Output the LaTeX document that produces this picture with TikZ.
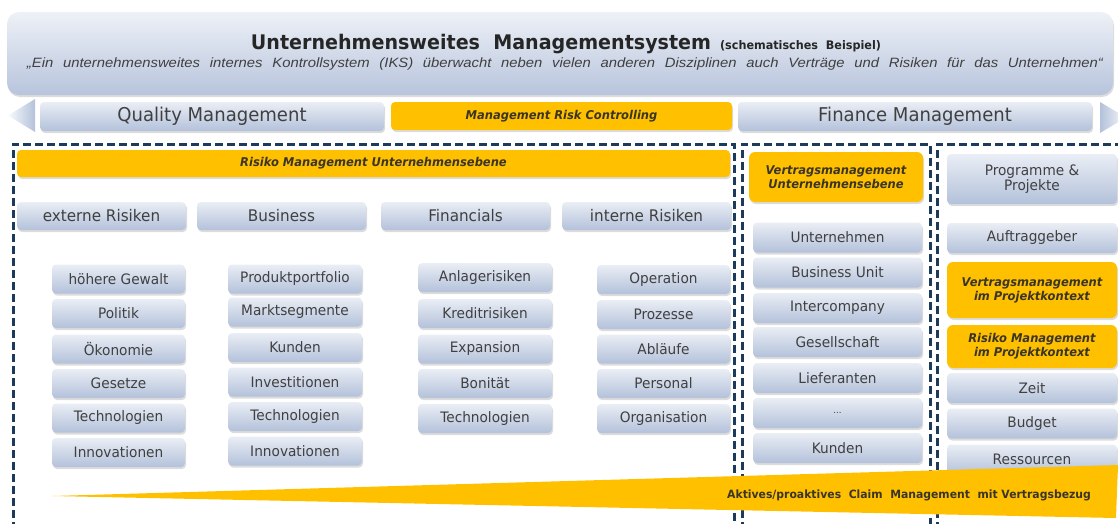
\documentclass[tikz,border=0pt]{standalone}
\usepackage{fontspec}
\setmainfont{DejaVu Sans}[FakeStretch=0.95]
\newfontfamily\arialfont{Liberation Sans}[FakeStretch=1.1]
\usetikzlibrary{shadows}
\definecolor{boxtop}{HTML}{EAEEF5}
\definecolor{boxbot}{HTML}{B3C1DA}
\definecolor{bantop}{HTML}{EEF1F7}
\definecolor{banbot}{HTML}{B7C4DC}
\definecolor{myyellow}{HTML}{FFC000}
\definecolor{navy}{HTML}{1B3A5C}
\definecolor{txt}{HTML}{404040}
\definecolor{ytxt}{HTML}{3A3526}
\newcommand\fItem{\fontsize{14.4}{15}\selectfont}
\newcommand\fHead{\fontsize{16}{18}\selectfont}
\newcommand\fBig{\fontsize{19}{21}\selectfont}
\newcommand\fYel{\fontsize{12.1}{14}\selectfont\bfseries\itshape}
\begin{document}
\begin{tikzpicture}[x=1pt,y=-1pt,
  shad/.style={drop shadow={shadow xshift=1pt,shadow yshift=-2pt,opacity=0.28}},
  bbox/.style={rounded corners=4pt,top color=boxtop,bottom color=boxbot,text=txt,inner sep=0pt,align=center,shad},
  item/.style={bbox,minimum width=133pt,minimum height=29pt,font=\fItem},
  vitem/.style={bbox,minimum width=169pt,minimum height=30pt,font=\fItem},
  pitem/.style={bbox,minimum width=170pt,minimum height=30pt,font=\fItem},
  head/.style={bbox,minimum width=169pt,minimum height=28pt,font=\fHead},
  ybox/.style={rounded corners=6pt,fill=myyellow,text=ytxt,inner sep=0pt,align=center,font=\fYel,shad},
  frame/.style={draw=navy,line width=3pt,dash pattern=on 8pt off 4pt}]
\useasboundingbox (0,0) rectangle (1118,523);
\clip (0,0) rectangle (1118,523);

% banner
\node[rounded corners=12pt,top color=bantop,bottom color=banbot,minimum width=1106pt,minimum height=83pt,inner sep=0pt,shad] (banner) at (560,53.5) {};
\node[text=black!85,inner sep=0pt] (title) at (566,44) {\fontsize{20.1}{25}\selectfont\bfseries Unternehmensweites\ \ Managementsystem\hspace{9pt}\fontsize{11.8}{13}\selectfont (schematisches\ \ Beispiel)};
\node[text=txt,inner sep=0pt] (sub) at (565,64) {\arialfont\itshape\fontsize{13.5}{15}\selectfont\makebox[1076pt][s]{„Ein unternehmensweites internes Kontrollsystem (IKS) überwacht neben vielen anderen Disziplinen auch Verträge und Risiken für das Unternehmen“}};

% row 2
\shade[left color=white!70!boxtop,right color=boxbot] (8,115.5) -- (35,99) -- (35,132) -- cycle;
\shade[left color=boxbot,right color=white!70!boxtop] (1100,102) -- (1126,117.5) -- (1100,133) -- cycle;
\node[bbox,minimum width=344pt,minimum height=29pt,font=\fBig] (qm) at (212,116.5) {Quality Management};
\node[ybox,minimum width=341pt,minimum height=28pt,rounded corners=4pt] (mrc) at (561.5,116) {Management Risk Controlling};
\node[bbox,minimum width=354pt,minimum height=29pt,font=\fBig] (fm) at (915,116.5) {Finance Management};

% frames
\draw[frame] (13,530) -- (13,144) -- (734,144) -- (734,530);
\draw[frame] (742,530) -- (742,144) -- (930,144) -- (930,530);
\draw[frame] (937,530) -- (937,144) -- (1125,144);

% Risiko Management Unternehmensebene
\node[ybox,minimum width=713pt,minimum height=27pt,rounded corners=4pt] (rmu) at (373.5,163.5) {Risiko Management Unternehmensebene};

% headers
\node[head] (h1) at (101.5,216) {externe Risiken};
\node[head] (h2) at (281.5,216) {Business};
\node[head] (h3) at (465.5,216) {Financials};
\node[head] (h4) at (646.5,216) {interne Risiken};

% column 1
\node[item] (a1) at (118.5,279) {höhere Gewalt};
\node[item] (a2) at (118.5,313.5) {Politik};
\node[item] (a3) at (118.5,349) {Ökonomie};
\node[item] (a4) at (118.5,383.5) {Gesetze};
\node[item] (a5) at (118.5,418) {Technologien};
\node[item] (a6) at (118.5,452.5) {Innovationen};
% column 2
\node[item,minimum width=134pt] (b1) at (295,279) {Produktportfolio};
\node[item,minimum width=134pt] (b2) at (295,312) {Marktsegmente};
\node[item,minimum width=134pt] (b3) at (295,347.5) {Kunden};
\node[item,minimum width=134pt] (b4) at (295,382) {Investitionen};
\node[item,minimum width=134pt] (b5) at (295,416.5) {Technologien};
\node[item,minimum width=134pt] (b6) at (295,451) {Innovationen};
% column 3
\node[item,minimum width=134pt] (c1) at (485,277.5) {Anlagerisiken};
\node[item,minimum width=134pt] (c2) at (485,313.5) {Kreditrisiken};
\node[item,minimum width=134pt] (c3) at (485,349) {Expansion};
\node[item,minimum width=134pt] (c4) at (485,383.5) {Bonität};
\node[item,minimum width=134pt] (c5) at (485,418.5) {Technologien};
% column 4
\node[item] (d1) at (663.5,279.5) {Operation};
\node[item] (d2) at (663.5,314.5) {Prozesse};
\node[item] (d3) at (663.5,349) {Abläufe};
\node[item] (d4) at (663.5,383.5) {Personal};
\node[item] (d5) at (663.5,418.5) {Organisation};

% Vertragsmanagement Unternehmensebene
\node[ybox,minimum width=174pt,minimum height=50pt] (vmu) at (836,177) {Vertragsmanagement\\Unternehmensebene};
\node[vitem] (v1) at (837.5,237.5) {Unternehmen};
\node[vitem] (v2) at (837.5,272.5) {Business Unit};
\node[vitem] (v3) at (837.5,308) {Intercompany};
\node[vitem] (v4) at (837.5,342) {Gesellschaft};
\node[vitem] (v5) at (837.5,378) {Lieferanten};
\node[vitem] (v6) at (837.5,413) {\fontsize{9}{11}\selectfont ...};
\node[vitem] (v7) at (837.5,448) {Kunden};

% Projekte
\node[bbox,minimum width=170pt,minimum height=50pt,font=\fItem] (pp) at (1032,179) {Programme \&\\Projekte};
\node[pitem] (p1) at (1032,238) {Auftraggeber};
\node[ybox,minimum width=170pt,minimum height=56pt] (vmp) at (1032,290) {Vertragsmanagement\\im Projektkontext};
\node[ybox,minimum width=170pt,minimum height=43pt] (rmp) at (1032,346.5) {Risiko Management\\im Projektkontext};
\node[pitem] (p2) at (1032,388) {Zeit};
\node[pitem] (p3) at (1032,423.5) {Budget};
\node[pitem] (p4) at (1032,459.5) {Ressourcen};

% wedge
\fill[myyellow] (52,496) -- (1118,465) -- (1116,518) -- cycle;
\node[text=ytxt,inner sep=0pt,font=\fontsize{11.4}{13}\selectfont\bfseries] (claim) at (909,495) {Aktives/proaktives\ \ Claim\ \ Management\ \ mit Vertragsbezug};
\end{tikzpicture}
\end{document}
